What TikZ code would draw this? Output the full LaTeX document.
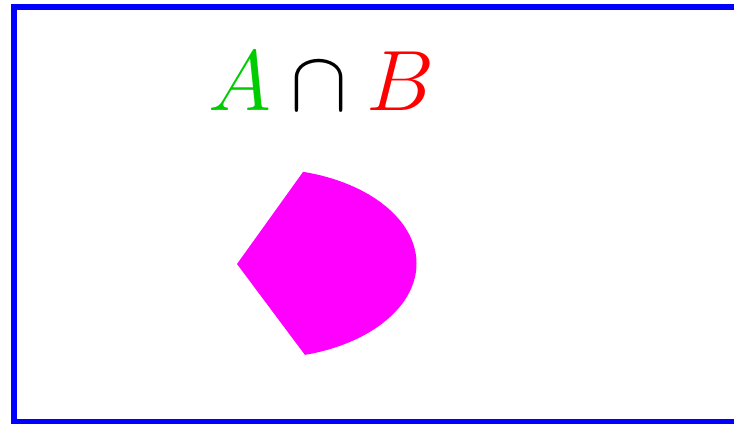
\documentclass[tikz,border=0pt]{standalone}
\usepackage{xcolor}
\definecolor{setA}{RGB}{0,204,0}
\definecolor{setB}{RGB}{255,0,0}
\definecolor{overlapfill}{RGB}{255,0,255}
\begin{document}
\begin{tikzpicture}[x=0.02cm, y=-0.02cm,
  frame/.style={draw=blue, line width=0.12cm},
  overlap/.style={fill=overlapfill},
  formula/.style={anchor=base west, inner sep=0pt, font=\Huge, scale=1.96}
]
  \useasboundingbox (0, 0) rectangle (734, 423);

  % Frame
  \draw[frame] (14, 7) rectangle (745, 422);

  % Title
  \node[formula] (title) at (208, 110)
    {$\textcolor{setA}{A} \cap \textcolor{setB}{B}$};

  % Intersection of the two sets
  \coordinate (apex) at (237, 264);
  \coordinate (upper) at (435, -12);
  \coordinate (lower) at (441, 537);
  \begin{scope}
    \clip (265, 263.5) ellipse [x radius=151.5, y radius=94.7];
    \fill[overlap] (apex) -- (upper) -- (lower) -- cycle;
  \end{scope}
\end{tikzpicture}
\end{document}
